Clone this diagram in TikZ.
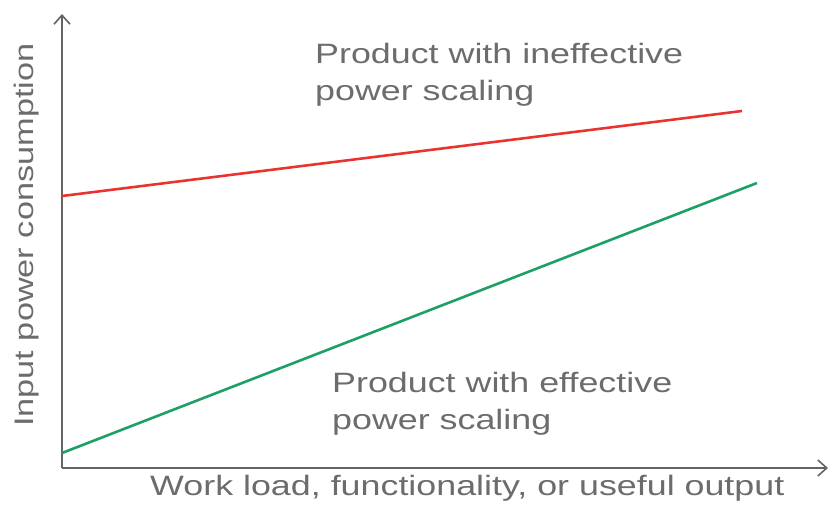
\documentclass[tikz,border=0pt]{standalone}
\usepackage{fontspec}
\setmainfont[FakeStretch=1.28]{Liberation Sans}
\usetikzlibrary{arrows.meta}
\definecolor{txtgray}{RGB}{108,108,108}
\definecolor{axisgray}{RGB}{100,100,100}
\definecolor{lred}{RGB}{235,50,45}
\definecolor{lgreen}{RGB}{30,160,100}
\begin{document}
\begin{tikzpicture}[x=1pt,y=-1pt,
  lbl/.style={text=txtgray,font=\fontsize{28}{37}\selectfont,inner sep=0pt},
  axis/.style={draw=axisgray,line width=2pt,-{Straight Barb[length=9pt,width=16pt,line width=1.6pt]}}]
\useasboundingbox (0,0) rectangle (828,516);
\coordinate (O) at (62,468);
\coordinate (Ytop) at (62,14);
\coordinate (Xend) at (828,468);
\draw[axis] (O) -- (Ytop);
\draw[axis] (O) -- (Xend);
\coordinate (r0) at (62,196);
\coordinate (r1) at (742,111);
\coordinate (g0) at (62,453);
\coordinate (g1) at (757,183);
\draw[lred,line width=2.6pt] (r0) -- (r1);
\draw[lgreen,line width=2.6pt] (g0) -- (g1);
\node[lbl,anchor=north west,align=left] (ineff) at (315,43) {Product with ineffective\\power scaling};
\node[lbl,anchor=north west,align=left] (eff) at (332,372) {Product with effective\\power scaling};
\node[lbl,font=\fontsize{26.8}{32}\selectfont,rotate=90,anchor=base west] (ylab) at (33,427) {Input power consumption};
\node[lbl,anchor=base west] (xlab) at (150,495) {Work load, functionality, or useful output};
\end{tikzpicture}
\end{document}
